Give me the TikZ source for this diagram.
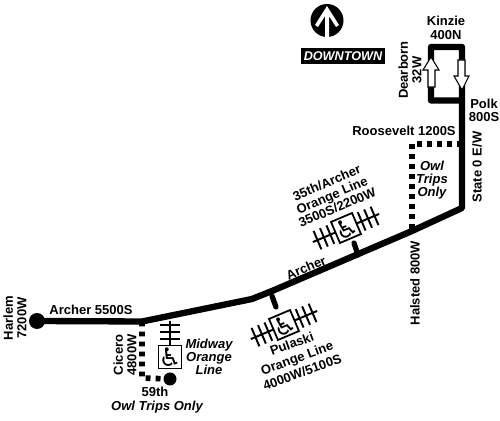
\documentclass[tikz,border=0pt]{standalone}
\usepackage{fontspec}
\setmainfont{Liberation Sans}
\newfontfamily\symfont{DejaVu Sans}
\usetikzlibrary{positioning,arrows.meta}
\tikzset{
  route/.style={line width=3.6pt, line join=round},
  owlroute/.style={line width=3.2pt, dash pattern=on 2.8pt off 2.9pt},
  lbl/.style={font=\fontsize{7.4}{7.6}\selectfont\bfseries, align=center, inner sep=0pt},
  ital/.style={font=\fontsize{7.4}{7.6}\selectfont\bfseries\itshape, align=center, inner sep=0pt},
  endstop/.style={circle, fill=black, inner sep=0pt},
  tie/.style={line width=1.1pt},
  chairbox/.style={draw, line width=1pt, fill=white, minimum size=13pt, inner sep=0pt, font=\symfont\fontsize{14.5}{14.5}\selectfont},
  onewayarrow/.style={draw, line width=0.6pt, fill=white},
}
\begin{document}
\begin{tikzpicture}[x=0.02cm,y=-0.02cm]
\useasboundingbox (0,0) rectangle (500,421);

% north arrow
\node[endstop, minimum size=33*0.02cm] (north) at (327,20.5) {};
\fill[white] (327,6) -- (339,25) -- (336,27) -- (329,16) -- (329,37) -- (325,37) -- (325,16) -- (318,27) -- (315,25) -- cycle;
\node[fill=black, text=white, font=\fontsize{7.2}{8}\selectfont\bfseries\itshape, minimum width=84*0.02cm, minimum height=16*0.02cm, inner sep=0pt] (downtown) at (343,56) {DOWNTOWN};

% route points
\node[endstop, minimum size=16*0.02cm] (harlem) at (37,321) {};
\coordinate (cicero) at (142,321.5);
\coordinate (bend) at (252,299);
\coordinate (bendb) at (272,291);
\coordinate (halsted) at (412,231);
\coordinate (state) at (462,208);
\coordinate (roosevelt) at (462,144);
\coordinate (polk) at (462,100.5);
\coordinate (kinzieb) at (462,47);
\coordinate (kinziea) at (431,47);
\coordinate (dearborn) at (431,100.5);
\coordinate (owla) at (412,144);
\node[endstop, minimum size=13*0.02cm] (owlend) at (170,379) {};
\coordinate (owlb) at (142,378);

% owl service
\draw[owlroute] (roosevelt) -- (owla) -- (halsted);
\draw[owlroute] (cicero) -- (owlb) -- (owlend);

% main route
\draw[route] (harlem.center) -- (cicero) -- (bend) -- (bendb) -- (halsted) -- (state) -- (kinzieb) -- (kinziea) -- (dearborn) -- (polk);

% one way arrows
\draw[onewayarrow] (431,57) -- (439,70) -- (435,70) -- (435,87) -- (428,87) -- (428,70) -- (423,70) -- cycle;
\draw[onewayarrow] (462,90) -- (469,76) -- (465,76) -- (465,60) -- (458,60) -- (458,76) -- (454,76) -- cycle;

% station stubs
\coordinate (stuba) at (354,243);
\coordinate (stubb) at (358,255);
\coordinate (stubc) at (272,296);
\coordinate (stubd) at (276,307);
\draw[line width=3pt, line cap=round] (stuba) -- (stubb);
\draw[line width=3pt, line cap=round] (stubc) -- (stubd);

% 35th/Archer station
\begin{scope}[shift={(346,228)}, rotate=23]
\draw[tie] (-36,0) -- (36,0);
\foreach \i in {-31,-24,-17,17,24,31} \draw[tie] (\i,-10) -- (\i,10);
\node[chairbox, transform shape] (chairarcher) at (0,0) {\symbol{"267F}};
\end{scope}

% Pulaski station
\begin{scope}[shift={(284,325)}, rotate=23]
\draw[tie] (-36,0) -- (36,0);
\foreach \i in {-31,-24,-17,17,24,31} \draw[tie] (\i,-10) -- (\i,10);
\node[chairbox, transform shape] (chairpulaski) at (0,0) {\symbol{"267F}};
\end{scope}

% Midway station
\draw[tie] (170,321) -- (170,346);
\foreach \y in {325,332,339} \draw[tie] (160,\y) -- (180,\y);
\node[chairbox] (chairmidway) at (170,357) {\symbol{"267F}};

% labels
\node[lbl] (kinzie) at (446,28) {Kinzie\\400N};
\node[lbl, rotate=90] (dearbornlbl) at (410,70) {Dearborn\\32W};
\node[lbl] (polklbl) at (484,110.5) {Polk\\800S};
\node[lbl] (rooseveltlbl) at (404,131) {Roosevelt 1200S};
\node[lbl, rotate=90] (statelbl) at (477,167) {State 0 E/W};
\node[ital] (owlonly) at (432,180) {Owl\\Trips\\Only};
\node[lbl, rotate=90] (halstedlbl) at (415,283) {Halsted 800W};
\node[lbl, rotate=23] (archerlbl) at (306,268) {Archer};
\node[lbl, rotate=23] (archerstn) at (332,195) {35th/Archer\\Orange Line\\3500S/2200W};
\node[lbl, rotate=20, font=\fontsize{7.4}{8.6}\selectfont\bfseries] (pulaskistn) at (297,358) {Pulaski\\Orange Line\\4000W/5100S};
\node[lbl, rotate=90] (harlemlbl) at (15,318) {Harlem\\7200W};
\node[lbl] (archerwest) at (91,310) {Archer 5500S};
\node[lbl, rotate=90] (cicerolbl) at (125,355) {Cicero\\4800W};
\node[ital] (midwaylbl) at (209,357) {Midway\\Orange\\Line};
\node[lbl] (ftyninth) at (155,392) {59th};
\node[ital] (owlwest) at (157,407) {Owl Trips Only};
\end{tikzpicture}
\end{document}
